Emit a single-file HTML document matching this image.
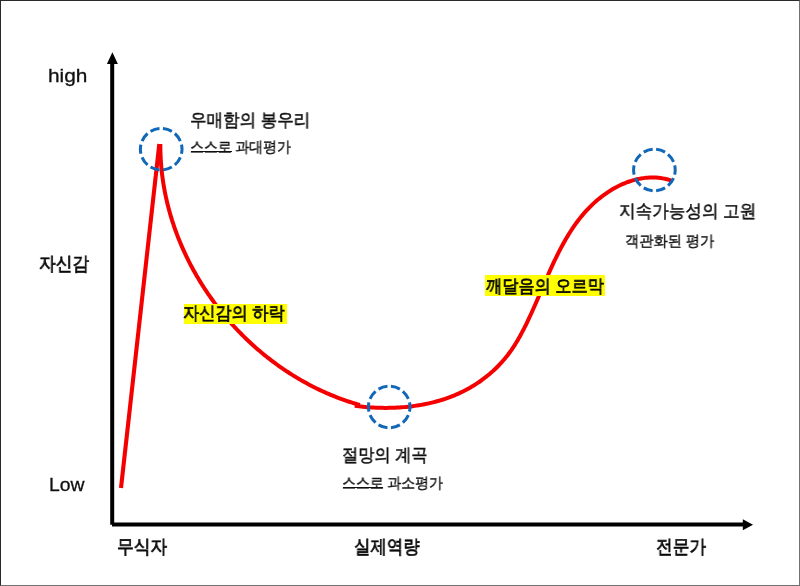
<!DOCTYPE html>
<html><head><meta charset="utf-8">
<style>
html,body{margin:0;padding:0;background:#fff;}
body{width:800px;height:586px;position:relative;overflow:hidden;font-family:"Liberation Sans",sans-serif;color:#111;}
#frame{position:absolute;left:0;top:0;width:800px;height:586px;box-sizing:border-box;border-left:1px solid #2a2a2a;border-top:1px solid #2a2a2a;border-right:1px solid #717171;border-bottom:1px solid #717171;}
svg{position:absolute;left:0;top:0;}
.t{position:absolute;white-space:nowrap;line-height:1;transform-origin:0 0;will-change:transform;}
.k{-webkit-text-stroke:0.7px #000;}
.k2{-webkit-text-stroke:0.5px #111;}
.k3{-webkit-text-stroke:0.4px #111;}
.hl{}
.e{-webkit-text-stroke:0.3px #111;}
</style></head><body>
<svg width="800" height="586" viewBox="0 0 800 586">
  <line x1="112.2" y1="62" x2="112.2" y2="524.8" stroke="#000" stroke-width="4"/>
  <polygon points="112.4,52.3 106.9,64 117.9,64" fill="#000"/>
  <line x1="112" y1="524.6" x2="744" y2="524.6" stroke="#000" stroke-width="4"/>
  <polygon points="753,524.7 742.8,519.2 742.8,530.2" fill="#000"/>
  <line x1="121" y1="488" x2="159.3" y2="144" stroke="#f40000" stroke-width="4.1"/>
  <path d="M160.36,144.00 L160.35,146.22 L160.37,148.43 L160.41,150.65 L160.47,152.87 L160.55,155.08 L160.65,157.29 L160.76,159.50 L160.90,161.71 L161.06,163.91 L161.24,166.11 L161.44,168.31 L161.66,170.51 L161.90,172.70 L162.16,174.89 L162.44,177.08 L162.74,179.27 L163.06,181.45 L163.40,183.63 L163.75,185.80 L164.13,187.97 L164.52,190.14 L164.94,192.30 L165.37,194.46 L165.82,196.62 L166.29,198.77 L166.78,200.92 L167.28,203.06 L167.81,205.20 L168.35,207.34 L168.92,209.47 L169.50,211.59 L170.09,213.71 L170.71,215.83 L171.34,217.94 L171.99,220.05 L172.66,222.15 L173.35,224.24 L174.05,226.33 L174.77,228.41 L175.51,230.49 L176.27,232.56 L177.04,234.63 L177.83,236.69 L178.64,238.74 L179.46,240.79 L180.30,242.83 L181.16,244.86 L182.03,246.89 L182.92,248.91 L183.83,250.93 L184.75,252.93 L185.69,254.93 L186.64,256.93 L187.61,258.91 L188.60,260.89 L189.60,262.86 L190.62,264.82 L191.65,266.78 L192.70,268.73 L193.77,270.67 L194.85,272.60 L195.94,274.52 L197.05,276.44 L198.18,278.34 L199.32,280.24 L200.47,282.13 L201.64,284.01 L202.83,285.88 L204.02,287.75 L205.24,289.60 L206.47,291.45 L207.71,293.28 L208.96,295.11 L210.23,296.93 L211.52,298.73 L212.82,300.53 L214.13,302.32 L215.45,304.10 L216.79,305.86 L218.14,307.62 L219.51,309.37 L220.89,311.11 L222.28,312.83 L223.69,314.55 L225.11,316.25 L226.54,317.95 L227.99,319.63 L229.44,321.30 L230.91,322.96 L232.40,324.61 L233.89,326.25 L235.40,327.88 L236.92,329.50 L238.45,331.10 L240.00,332.69 L241.55,334.27 L243.12,335.84 L244.70,337.40 L246.30,338.94 L247.90,340.47 L249.52,341.99 L251.14,343.50 L252.78,344.99 L254.43,346.47 L256.09,347.94 L257.76,349.39 L259.45,350.84 L261.14,352.26 L262.85,353.68 L264.56,355.08 L266.29,356.47 L268.02,357.84 L269.77,359.20 L271.53,360.55 L273.30,361.88 L275.07,363.20 L276.86,364.51 L278.66,365.80 L280.47,367.07 L282.29,368.33 L284.11,369.58 L285.95,370.81 L287.80,372.03 L289.65,373.23 L291.52,374.42 L293.39,375.59 L295.28,376.74 L297.17,377.88 L299.07,379.01 L300.98,380.12 L302.90,381.21 L304.83,382.29 L306.77,383.35 L308.71,384.40 L310.67,385.43 L312.63,386.44 L314.60,387.44 L316.58,388.42 L318.56,389.38 L320.56,390.33 L322.56,391.26 L324.57,392.17 L326.59,393.06 L328.61,393.94 L330.65,394.80 L332.69,395.65 L334.73,396.47 L336.79,397.28 L338.85,398.07 L340.92,398.85 L342.99,399.60 L345.08,400.34 L347.17,401.06 L349.26,401.76 L351.36,402.44 L353.47,403.10 L355.59,403.75 L357.71,404.37 L359.84,404.98" fill="none" stroke="#f40000" stroke-width="4" stroke-linejoin="round"/>
  <path d="M354.78,405.83 L356.83,406.10 L358.89,406.34 L360.97,406.57 L363.05,406.78 L365.14,406.98 L367.24,407.15 L369.35,407.31 L371.47,407.45 L373.60,407.57 L375.73,407.67 L377.87,407.76 L380.02,407.82 L382.17,407.86 L384.33,407.88 L386.49,407.88 L388.65,407.86 L390.82,407.82 L392.99,407.76 L395.16,407.68 L397.34,407.57 L399.51,407.44 L401.69,407.29 L403.86,407.12 L406.04,406.92 L408.21,406.70 L410.38,406.45 L412.55,406.19 L414.72,405.89 L416.88,405.57 L419.04,405.23 L421.20,404.86 L423.34,404.47 L425.49,404.05 L427.62,403.60 L429.75,403.13 L431.88,402.63 L433.99,402.11 L436.10,401.55 L438.19,400.97 L440.28,400.36 L442.36,399.72 L444.42,399.06 L446.48,398.36 L448.52,397.64 L450.55,396.89 L452.57,396.10 L454.57,395.29 L456.56,394.45 L458.53,393.57 L460.49,392.67 L462.44,391.73 L464.36,390.77 L466.27,389.77 L468.17,388.74 L470.04,387.69 L471.90,386.60 L473.74,385.48 L475.55,384.34 L477.35,383.17 L479.13,381.97 L480.89,380.74 L482.62,379.48 L484.33,378.20 L486.02,376.89 L487.69,375.55 L489.34,374.19 L490.96,372.80 L492.55,371.38 L494.12,369.95 L495.67,368.48 L497.19,366.99 L498.68,365.48 L500.14,363.94 L501.58,362.38 L502.99,360.79 L504.37,359.19 L505.72,357.56 L507.05,355.90 L508.34,354.23 L509.60,352.53 L510.84,350.82 L512.04,349.08 L513.22,347.33 L514.38,345.55 L515.51,343.76 L516.63,341.95 L517.72,340.13 L518.78,338.29 L519.84,336.43 L520.87,334.56 L521.88,332.67 L522.88,330.78 L523.87,328.87 L524.84,326.95 L525.80,325.02 L526.75,323.07 L527.69,321.12 L528.62,319.16 L529.54,317.19 L530.45,315.22 L531.36,313.24 L532.26,311.25 L533.15,309.25 L534.04,307.25 L534.93,305.24 L535.81,303.23 L536.69,301.22 L537.56,299.20 L538.43,297.18 L539.31,295.16 L540.17,293.14 L541.04,291.11 L541.91,289.09 L542.78,287.06 L543.66,285.04 L544.53,283.01 L545.41,280.99 L546.28,278.97 L547.17,276.95 L548.05,274.94 L548.95,272.92 L549.84,270.92 L550.75,268.92 L551.66,266.92 L552.58,264.93 L553.50,262.94 L554.43,260.97 L555.38,259.00 L556.33,257.03 L557.29,255.08 L558.27,253.14 L559.25,251.20 L560.25,249.28 L561.26,247.36 L562.28,245.46 L563.32,243.57 L564.37,241.69 L565.44,239.83 L566.52,237.98 L567.62,236.14 L568.73,234.31 L569.86,232.51 L571.01,230.71 L572.18,228.94 L573.37,227.18 L574.58,225.43 L575.80,223.71 L577.05,222.00 L578.32,220.31 L579.61,218.64 L580.93,216.99 L582.27,215.37 L583.63,213.76 L585.02,212.17 L586.43,210.61 L587.87,209.07 L589.33,207.55 L590.82,206.05 L592.34,204.58 L593.88,203.14 L595.46,201.72 L597.06,200.32 L598.70,198.95 L600.36,197.61 L602.05,196.30 L603.78,195.01 L605.54,193.76 L607.32,192.54 L609.13,191.35 L610.97,190.20 L612.83,189.08 L614.72,188.01 L616.63,186.98 L618.57,185.99 L620.53,185.04 L622.50,184.14 L624.50,183.29 L626.52,182.49 L628.55,181.75 L630.60,181.05 L632.66,180.41 L634.74,179.83 L636.84,179.31 L638.95,178.85 L641.06,178.46 L643.19,178.13 L645.33,177.86 L647.48,177.67 L649.63,177.54 L651.79,177.49 L653.96,177.51 L656.13,177.60 L658.31,177.77 L660.49,178.03 L662.67,178.36 L664.85,178.78 L667.03,179.28 L669.21,179.86 L671.38,180.54" fill="none" stroke="#f40000" stroke-width="4" stroke-linejoin="round"/>
  <circle cx="161.2" cy="149.2" r="20.8" fill="none" stroke="#1167b8" stroke-width="3" pathLength="100" stroke-dasharray="7.2 2.8" stroke-dashoffset="3.6"/>
  <circle cx="389.2" cy="407" r="20.8" fill="none" stroke="#1167b8" stroke-width="3" pathLength="100" stroke-dasharray="7.2 2.8" stroke-dashoffset="3.6"/>
  <circle cx="654.4" cy="170" r="20.8" fill="none" stroke="#1167b8" stroke-width="3" pathLength="100" stroke-dasharray="7.2 2.8" stroke-dashoffset="3.6"/>
</svg>
<div id="frame"></div>
<div style="position:absolute;left:191.1px;top:150.7px;width:40.7px;height:1.5px;background:#111;"></div>
<div style="position:absolute;left:342.5px;top:486.9px;width:40.6px;height:1.5px;background:#111;"></div>
<div style="position:absolute;left:184px;top:303.5px;width:102.8px;height:20.8px;background:#ffff00;"></div>
<div style="position:absolute;left:485.4px;top:275.4px;width:119.6px;height:20.4px;background:#ffff00;"></div>
<div class="t e" style="left:48.3px;top:66.6px;font-size:18.8px;transform:scaleX(1.11);">high</div>
<div class="t k" style="left:38.8px;top:253.7px;font-size:19px;transform:scaleX(0.88);">자신감</div>
<div class="t e" style="left:49.3px;top:476.1px;font-size:18.8px;transform:scaleX(1.03);">Low</div>
<div class="t k2" style="left:190.1px;top:110.7px;font-size:18px;transform:scaleX(0.918);">우매함의 봉우리</div>
<div class="t k3" style="left:190.1px;top:138.6px;font-size:15px;transform:scaleX(0.926);">스스로 과대평가</div>
<div class="t k hl" style="left:183.0px;top:304.2px;font-size:18px;transform:scaleX(0.9);">자신감의 하락</div>
<div class="t k2" style="left:341.8px;top:446.3px;font-size:18px;transform:scaleX(0.9);">절망의 계곡</div>
<div class="t k3" style="left:341.8px;top:474.5px;font-size:15px;transform:scaleX(0.926);">스스로 과소평가</div>
<div class="t k hl" style="left:485.7px;top:276.7px;font-size:18px;transform:scaleX(0.9);">깨달음의 오르막</div>
<div class="t k2" style="left:619px;top:202px;font-size:18px;transform:scaleX(0.921);">지속가능성의 고원</div>
<div class="t k3" style="left:625px;top:233px;font-size:15px;transform:scaleX(0.95);">객관화된 평가</div>
<div class="t k" style="left:117.1px;top:537.3px;font-size:19px;transform:scaleX(0.88);">무식자</div>
<div class="t k" style="left:354.2px;top:537px;font-size:19px;transform:scaleX(0.864);">실제역량</div>
<div class="t k" style="left:655.9px;top:537.3px;font-size:19px;transform:scaleX(0.88);">전문가</div>
</body></html>
